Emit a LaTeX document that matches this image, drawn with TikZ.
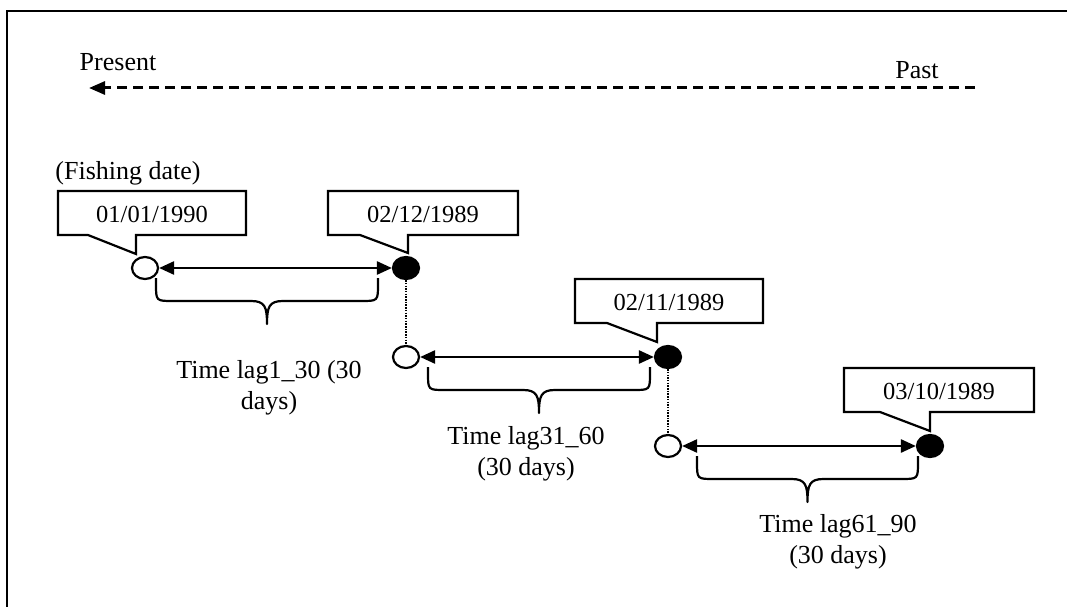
\documentclass[tikz,border=0pt]{standalone}
\usepackage{fontspec}
\setmainfont{Liberation Serif}
\usetikzlibrary{arrows.meta,shapes.geometric}
\newcommand\mybrace[3]{%
  \pgfmathsetmacro\bxc{(#1+#2)/2}%
  \pgfmathsetmacro\byh{#3+23}%
  \pgfmathsetmacro\byv{#3+6}%
  \pgfmathsetmacro\byt{#3+46}%
  \pgfmathsetmacro\bxa{#1+17}%
  \pgfmathsetmacro\bxb{\bxc-16}%
  \pgfmathsetmacro\bxd{\bxc+16}%
  \pgfmathsetmacro\bxe{#2-17}%
  \draw[bracestyle] (#1,#3) -- (#1,\byv) .. controls (#1,\byh) .. (\bxa,\byh) -- (\bxb,\byh)
    .. controls (\bxc-2,\byh) and (\bxc,\byh+6) .. (\bxc,\byt) .. controls (\bxc,\byh+6) and (\bxc+2,\byh) .. (\bxd,\byh) -- (\bxe,\byh)
    .. controls (#2,\byh) .. (#2,\byv) -- (#2,#3);}
\begin{document}
\begin{tikzpicture}[x=1pt,y=-1pt,
  frame/.style={line width=1.5pt},
  lbl/.style={font=\fontsize{26}{31}\selectfont, align=center, inner sep=0pt},
  datelbl/.style={font=\fontsize{24.5}{29}\selectfont, inner sep=0pt},
  callout/.style={draw, line width=2.2pt, line join=miter},
  opendot/.style={ellipse, draw, line width=2.2pt, fill=white, minimum width=26pt, minimum height=22pt, inner sep=0pt},
  filldot/.style={ellipse, draw, line width=2.2pt, fill=black, minimum width=26pt, minimum height=22pt, inner sep=0pt},
  span/.style={line width=2.5pt, {Triangle[length=15pt,width=13pt]}-{Triangle[length=15pt,width=13pt]}},
  link/.style={line width=2pt, dash pattern=on 1.5pt off 1.2pt},
  timeline/.style={line width=3pt, dash pattern=on 10pt off 6pt, -{Triangle[length=16pt,width=13pt]}},
  bracestyle/.style={line width=2.2pt, line join=round}]
\useasboundingbox (0,0) rectangle (1067,607);
\draw[frame] (7,607) -- (7,11) -- (1067,11);

% time direction
\node[lbl] (present) at (118,62) {Present};
\node[lbl] (past) at (917,70) {Past};
\coordinate (tpast) at (975,88);
\coordinate (tpresent) at (89,88);
\draw[timeline] (tpast) -- (tpresent);

\node[lbl] (fishing) at (128,173) {(Fishing date)};

% callouts
\draw[callout] (58,191) -- (246,191) -- (246,235) -- (136,235) -- (136,254) -- (88,235) -- (58,235) -- cycle;
\node[datelbl] (d1) at (152,214) {01/01/1990};
\draw[callout] (328,191) -- (518,191) -- (518,235) -- (408,235) -- (408,253) -- (360,235) -- (328,235) -- cycle;
\node[datelbl] (d2) at (423,214) {02/12/1989};
\draw[callout] (575,279) -- (763,279) -- (763,323) -- (657,323) -- (657,342) -- (607,323) -- (575,323) -- cycle;
\node[datelbl] (d3) at (669,302) {02/11/1989};
\draw[callout] (844,368) -- (1034,368) -- (1034,412) -- (930,412) -- (930,431) -- (880,412) -- (844,412) -- cycle;
\node[datelbl] (d4) at (939,391) {03/10/1989};

% dots
\node[opendot] (o1) at (145,268) {};
\node[filldot] (f1) at (406,268) {};
\node[opendot] (o2) at (406,357) {};
\node[filldot] (f2) at (668,357) {};
\node[opendot] (o3) at (668,446) {};
\node[filldot] (f3) at (930,446) {};

\draw[span] (o1) -- (f1);
\draw[span] (o2) -- (f2);
\draw[span] (o3) -- (f3);
\draw[link] (f1) -- (o2);
\draw[link] (f2) -- (o3);

% braces
\mybrace{156}{378}{278}
\mybrace{428}{650}{367}
\mybrace{697}{918}{456}

\node[lbl] (lag1) at (269,388) {Time lag1\_30 (30\\days)};
\node[lbl] (lag2) at (526,454) {Time lag31\_60\\(30 days)};
\node[lbl] (lag3) at (838,542) {Time lag61\_90\\(30 days)};
\end{tikzpicture}
\end{document}
